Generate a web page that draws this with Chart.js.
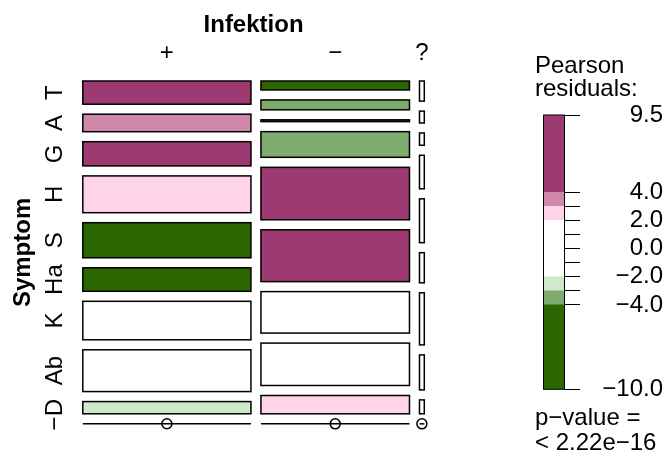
<!DOCTYPE html>
<html>
<head>
<meta charset="utf-8">
<script src="https://cdn.jsdelivr.net/npm/chart.js@4/dist/chart.umd.min.js"></script>
<style>
  html, body { margin: 0; padding: 0; background: #fff; }
  #wrap { position: relative; width: 668px; height: 458px; }
  #mosaic { position: absolute; left: 0; top: 0; }
  #legende { position: absolute; left: 520px; top: 0; }
</style>
</head>
<body>
<div id="wrap">
  <canvas id="mosaic" width="668" height="458"></canvas>
  <canvas id="legende" width="148" height="458"></canvas>
</div>
<script>
// Daten
const infektion = ['+', '−', '?'];
const symptom = ['T', 'A', 'G', 'H', 'S', 'Ha', 'K', 'Ab', 'D', '−'];
// Anteil der Spalten an allen Faellen (%)
const anteilInfektion = [52.3, 46.2, 1.5];
// Anteil der Symptome innerhalb jeder Spalte (%)
const anteilPlus  = [9.18, 6.92, 9.57, 14.56, 13.88, 9.30, 15.23, 16.53, 4.83, 0];
const anteilMinus = [3.54, 3.90, 0.72, 10.16, 20.75, 20.51, 16.41, 16.77, 7.25, 0];
const anteilFrage = [7.96, 4.69, 4.86, 13.27, 17.35, 11.92, 20.61, 13.84, 5.51, 0];
// Pearson-Residuen je Zelle (null = leere Zelle)
const residPlus  = [5.6, 3.4, 9.5, 2.7, -5.1, -4.6, 0.4, 0.9, -2.4, null];
const residMinus = [-5.7, -3.3, -10.0, -3.2, 5.3, 6.4, -0.5, -0.6, 2.3, null];
const residFrage = [1.3, 0.4, 1.2, 0.6, -0.9, -0.4, 1.5, -0.2, 0.7, null];
// Stufen der Schattierung und Skala der Legende
const grenzen = [-4, -3, -2, 2, 3, 4];
const legendeTicks = [9.5, 4, 3, 2, 1, 0, -1, -2, -3, -4, -10];
const legendeBeschriftet = [9.5, 4, 2, 0, -2, -4, -10];
const pWert = '< 2.22e−16';

const farben = ['#2b6700', '#7daa6d', '#cfeac8', '#ffffff', '#ffd3e8', '#d088aa', '#9c3a71'];
const schrift = '"Liberation Sans", Arial, sans-serif';

const anteile = [anteilPlus, anteilMinus, anteilFrage];
const residuen = [residPlus, residMinus, residFrage];

function farbeFuer(r) {
    let i = 0;
    while (i < grenzen.length && r > grenzen[i]) i++;
    return farben[i];
}

// Kachel-Geometrie in Dateneinheiten (Breiten/Hoehen summieren sich zu 1)
const lueckeX = 0.0311;
const lueckeY = 0.0396;
const spalten = [];
let xPos = 0;
anteilInfektion.forEach((w, j) => {
    const breite = w / 100;
    const zellen = [];
    let yPos = 0;
    anteile[j].forEach((h, i) => {
        zellen.push({ y0: yPos, y1: yPos + h / 100, r: residuen[j][i] });
        yPos += h / 100 + lueckeY;
    });
    spalten.push({ x0: xPos, x1: xPos + breite, zellen: zellen });
    xPos += breite + lueckeX;
});
const xMax = xPos - lueckeX;
const yMax = 1 + (symptom.length - 1) * lueckeY;

// leere Zellen: Linie mit Kreis
const leerLinien = [];
const leerPunkte = [];
spalten.forEach(s => {
    s.zellen.forEach(z => {
        if (z.r === null) {
            leerLinien.push({
                type: 'line',
                data: [{ x: s.x0, y: z.y0 }, { x: s.x1, y: z.y0 }],
                borderColor: '#000', borderWidth: 1.5, pointRadius: 0, clip: false
            });
            leerPunkte.push({ x: (s.x0 + s.x1) / 2, y: z.y0 });
        }
    });
});

const kachelPlugin = {
    id: 'kacheln',
    beforeDatasetsDraw(chart) {
        const ctx = chart.ctx;
        const sx = chart.scales.x, sy = chart.scales.y;
        ctx.save();
        ctx.lineWidth = 1.5;
        ctx.strokeStyle = '#000';
        spalten.forEach(s => {
            const px0 = sx.getPixelForValue(s.x0);
            const px1 = sx.getPixelForValue(s.x1);
            s.zellen.forEach(z => {
                if (z.r === null) return;
                const py0 = sy.getPixelForValue(z.y0);
                const py1 = sy.getPixelForValue(z.y1);
                ctx.fillStyle = farbeFuer(z.r);
                ctx.fillRect(px0, py0, px1 - px0, py1 - py0);
                ctx.strokeRect(px0, py0, px1 - px0, py1 - py0);
            });
        });
        ctx.restore();
    },
    afterDraw(chart) {
        const ctx = chart.ctx;
        const sx = chart.scales.x, sy = chart.scales.y;
        const area = chart.chartArea;
        ctx.save();
        ctx.fillStyle = '#000';
        ctx.textAlign = 'center';
        ctx.textBaseline = 'alphabetic';
        ctx.font = 'bold 24px ' + schrift;
        ctx.fillText('Infektion', (area.left + area.right) / 2, 32);
        ctx.font = '24px ' + schrift;
        spalten.forEach((s, j) => {
            ctx.fillText(infektion[j], sx.getPixelForValue((s.x0 + s.x1) / 2), 60);
        });
        // Zeilenbeschriftung an der ersten Spalte
        spalten[0].zellen.forEach((z, i) => {
            const y = sy.getPixelForValue((z.y0 + z.y1) / 2);
            ctx.save();
            ctx.translate(62, y);
            ctx.rotate(-Math.PI / 2);
            ctx.fillText(symptom[i], 0, 0);
            ctx.restore();
        });
        ctx.save();
        ctx.translate(30, (area.top + area.bottom) / 2);
        ctx.rotate(-Math.PI / 2);
        ctx.font = 'bold 24px ' + schrift;
        ctx.fillText('Symptom', 0, 0);
        ctx.restore();
        ctx.restore();
    }
};

new Chart(document.getElementById('mosaic'), {
    type: 'scatter',
    data: {
        datasets: leerLinien.concat([{
            data: leerPunkte,
            pointRadius: 5,
            pointBackgroundColor: '#fff',
            pointBorderColor: '#000',
            pointBorderWidth: 1.5,
            clip: false
        }])
    },
    options: {
        responsive: false,
        animation: false,
        devicePixelRatio: 1,
        layout: { padding: { left: 82.8, right: 243.7, top: 81, bottom: 34.2 } },
        plugins: { legend: { display: false }, tooltip: { enabled: false } },
        scales: {
            x: { type: 'linear', display: false, min: 0, max: xMax },
            y: { type: 'linear', display: false, min: 0, max: yMax, reverse: true }
        }
    },
    plugins: [kachelPlugin]
});

// Legende der Residuen
const minRes = Math.min(...residuen.flat().filter(v => v !== null));
const maxRes = Math.max(...residuen.flat().filter(v => v !== null));
const stufen = [minRes].concat(grenzen, [maxRes]);
const baender = farben.map((f, i) => ({
    data: [[stufen[i], stufen[i + 1]]],
    backgroundColor: f,
    borderWidth: 0,
    barPercentage: 1,
    categoryPercentage: 1,
    grouped: false
}));

const rahmenPlugin = {
    id: 'rahmen',
    afterDraw(chart) {
        const ctx = chart.ctx;
        const a = chart.chartArea;
        ctx.save();
        ctx.strokeStyle = '#000';
        ctx.lineWidth = 1;
        ctx.strokeRect(a.left + 0.5, a.top, a.right - a.left, a.bottom - a.top);
        ctx.fillStyle = '#000';
        ctx.font = '24px ' + schrift;
        ctx.textAlign = 'left';
        ctx.fillText('Pearson', 15, 73);
        ctx.fillText('residuals:', 15, 96);
        ctx.fillText('p−value =', 15, 425);
        ctx.fillText(pWert, 15, 450);
        ctx.restore();
    }
};

new Chart(document.getElementById('legende'), {
    type: 'bar',
    data: { labels: [''], datasets: baender },
    options: {
        responsive: false,
        animation: false,
        devicePixelRatio: 1,
        layout: { padding: { left: 23, right: 5, top: 115, bottom: 68.7 } },
        plugins: { legend: { display: false }, tooltip: { enabled: false } },
        scales: {
            x: { display: false },
            y: {
                position: 'right',
                min: minRes,
                max: maxRes,
                afterBuildTicks: s => { s.ticks = legendeTicks.map(v => ({ value: v })); },
                afterFit: s => { s.width = 99; },
                border: { display: true, color: '#000', width: 1 },
                grid: { drawOnChartArea: false, drawTicks: true, tickLength: 16, color: '#000', lineWidth: 1 },
                ticks: {
                    autoSkip: false,
                    crossAlign: 'far',
                    padding: 17,
                    color: '#000',
                    font: { family: schrift, size: 24 },
                    callback: v => legendeBeschriftet.includes(v) ? v.toFixed(1).replace('-', '−') : ''
                }
            }
        }
    },
    plugins: [rahmenPlugin]
});
</script>
</body>
</html>
